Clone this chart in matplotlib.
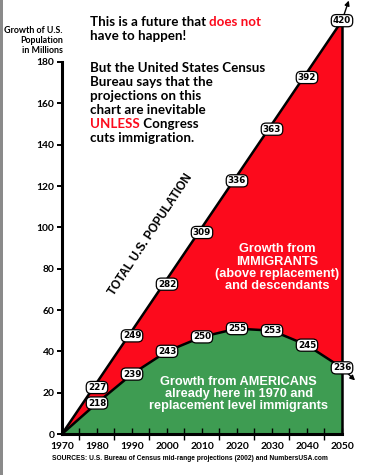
import matplotlib
matplotlib.use('Agg')
import matplotlib.pyplot as plt
import matplotlib.ticker as ticker
from matplotlib.patches import Rectangle

years = [1970, 1980, 1990, 2000, 2010, 2020, 2030, 2040, 2050]
total_growth = [0, 25, 50, 75, 100, 125, 150, 175, 200]
american_growth = [0, 15, 29, 40, 47, 51, 50, 43, 32]
total_labels = ['227', '249', '282', '309', '336', '363', '392', '420']
american_labels = ['218', '239', '243', '250', '255', '253', '245', '236']
y_ticks = [0, 20, 40, 60, 80, 100, 120, 140, 160, 180]

RED = '#fc0a1c'
GREEN = '#3e9c52'
W, H = 378, 475

fig = plt.figure(figsize=(W / 100, H / 100), dpi=100)
fig.patch.set_facecolor('white')
fig.patches.append(Rectangle((0, 0), 3 / W, 1, transform=fig.transFigure,
                             facecolor='#8a8a8a', edgecolor='none'))

ax = fig.add_axes([62 / W, 41 / H, 301 / W, 434 / H])
ax.set_xlim(1970, 2056)
ax.set_ylim(0, 210)

ax.fill_between(years, american_growth, total_growth, facecolor=RED, edgecolor='none')
ax.fill_between(years, 0, american_growth, facecolor=GREEN, edgecolor='none')
ax.plot(years, total_growth, color='black', lw=1.8, solid_capstyle='butt')
ax.plot(years, american_growth, color='black', lw=1.8)
ax.plot([2050, 2050], [0, total_growth[-1]], color='black', lw=1.8)

# arrows leaving the chart at 2050
ax.annotate('', xy=(2052.2, 211), xytext=(2050, total_growth[-1]),
            arrowprops=dict(arrowstyle='-|>', color='black', lw=1.0,
                            mutation_scale=7), annotation_clip=False)
ax.annotate('', xy=(2054.3, 25), xytext=(2050, american_growth[-1]),
            arrowprops=dict(arrowstyle='-|>', color='black', lw=1.0,
                            mutation_scale=7), annotation_clip=False)

bubble = dict(boxstyle='round,pad=0.18,rounding_size=0.55', facecolor='white',
              edgecolor='black', lw=0.9)
for yr, v, lab in zip(years[1:], total_growth[1:], total_labels):
    dy = 0 if yr == 2050 else -2.5
    ax.text(yr, v + dy, lab, ha='center', va='center', fontsize=6.3,
            fontweight='bold', family='DejaVu Sans', bbox=bubble, zorder=5)
for yr, v, lab in zip(years[1:], american_growth[1:], american_labels):
    ax.text(yr, v, lab, ha='center', va='center', fontsize=6.3,
            fontweight='bold', family='DejaVu Sans', bbox=bubble, zorder=5)

# axes styling
for s in ['top', 'right']:
    ax.spines[s].set_visible(False)
ax.spines['left'].set_linewidth(2.2)
ax.spines['bottom'].set_linewidth(2.2)
ax.spines['left'].set_bounds(0, 180)
ax.spines['bottom'].set_bounds(1970, 2050)
ax.set_yticks(y_ticks)
ax.set_xticks(years)
ax.xaxis.set_minor_locator(ticker.FixedLocator(list(range(1975, 2050, 10))))
ax.tick_params(axis='y', direction='out', length=3.5, width=1.4, pad=2,
               labelsize=7.4)
ax.tick_params(axis='x', which='major', direction='in', length=4, width=1.0,
               pad=6, labelsize=7.4)
ax.tick_params(axis='x', which='minor', direction='inout', length=8, width=1.0)
for lab in ax.get_xticklabels() + ax.get_yticklabels():
    lab.set_fontweight('bold')
    lab.set_family('Lato')

ax.text(1995.4, 96.5, 'TOTAL U.S. POPULATION', rotation=56.7, ha='center',
        va='center', fontsize=8.5, fontweight='bold',
        family='Liberation Sans', rotation_mode='anchor')
ax.text(2031.5, 80.5, 'Growth from\nIMMIGRANTS\n(above replacement)\nand descendants',
        ha='center', va='center', color='white', fontsize=9.2, fontweight='bold',
        family='Liberation Sans', linespacing=1.02)
ax.text(2020.5, 19.5, 'Growth from AMERICANS\nalready here in 1970 and\nreplacement level immigrants',
        ha='center', va='center', color='white', fontsize=9.2, fontweight='bold',
        family='Liberation Sans', linespacing=1.0)


def fx(px):
    return px / W


def fy(py):
    return 1 - py / H


fig.canvas.draw()
renderer = fig.canvas.get_renderer()


def rich_line(x, y, parts, **kw):
    for s, c in parts:
        t = fig.text(fx(x), fy(y), s, color=c, va='baseline', ha='left', **kw)
        bb = t.get_window_extent(renderer)
        x = bb.x1


head = dict(fontsize=9.6, fontweight='bold', family='Lato')
rich_line(90, 26.5, [('This is a future that ', 'black'), ('does not', RED)], **head)
rich_line(90, 39.5, [('have to happen!', 'black')], **head)
para = [
    [('But the United States Census', 'black')],
    [('Bureau says that the', 'black')],
    [('projections on this', 'black')],
    [('chart are inevitable', 'black')],
    [('UNLESS', RED), (' Congress', 'black')],
    [('cuts immigration.', 'black')],
]
for i, parts in enumerate(para):
    rich_line(90, 72 + 14 * i, parts, **head)

for i, s in enumerate(['Growth of U.S.', 'Population', 'in Millions']):
    fig.text(fx(63), fy(33 + 10 * i), s, ha='right', va='baseline',
             fontsize=6.4, fontweight='bold', family='Lato')

fig.text(fx(52), fy(460), 'SOURCES: U.S. Bureau of Census mid-range projections (2002) and NumbersUSA.com',
         ha='left', va='baseline', fontsize=4.8, fontweight='bold',
         family='Liberation Sans')

fig.savefig('out.png', dpi=100)
